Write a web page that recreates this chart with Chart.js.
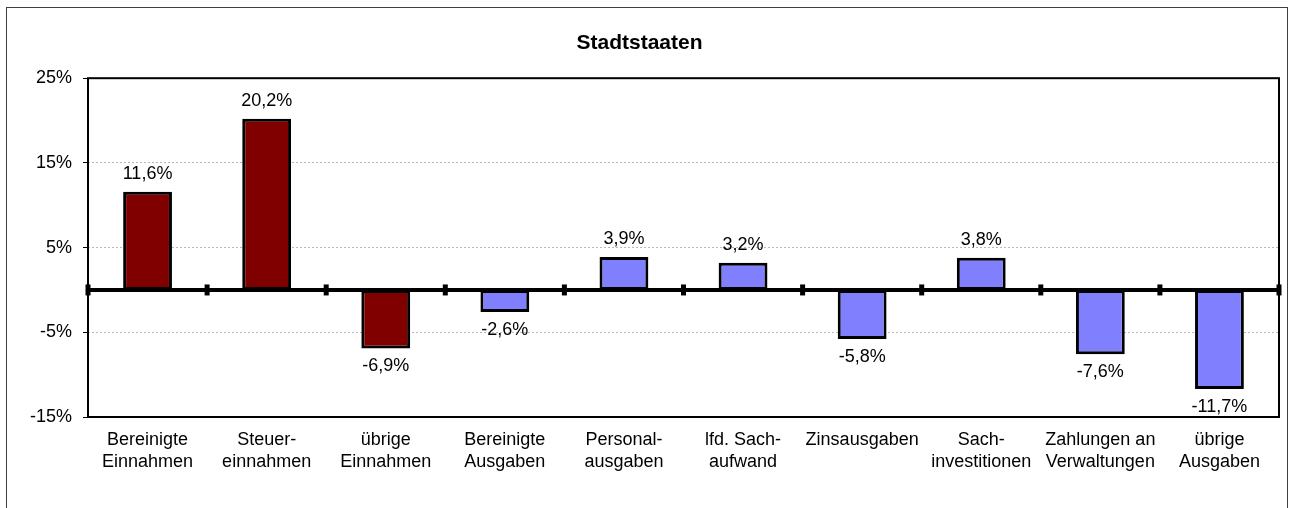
<!DOCTYPE html>
<html>
<head>
<meta charset="utf-8">
<script src="https://cdn.jsdelivr.net/npm/chart.js@4/dist/chart.umd.min.js"></script>
<style>
  html, body { margin: 0; padding: 0; background: #fff; }
  #wrap { width: 1292px; height: 508px; }
</style>
</head>
<body>
<div id="wrap"><canvas id="myChart" width="1292" height="508"></canvas></div>
<script>
const categories = [
  ['Bereinigte', 'Einnahmen'],
  ['Steuer-', 'einnahmen'],
  ['übrige', 'Einnahmen'],
  ['Bereinigte', 'Ausgaben'],
  ['Personal-', 'ausgaben'],
  ['lfd. Sach-', 'aufwand'],
  ['Zinsausgaben'],
  ['Sach-', 'investitionen'],
  ['Zahlungen an', 'Verwaltungen'],
  ['übrige', 'Ausgaben']
];
const changes = [11.6, 20.2, -6.9, -2.6, 3.9, 3.2, -5.8, 3.8, -7.6, -11.7];
const isIncome = [true, true, true, false, false, false, false, false, false, false];
const yTicks = { min: -15, max: 25, step: 10 };

const incomeColor = '#800000';
const spendColor = '#8080ff';
const fontFamily = '"Liberation Sans", Arial, sans-serif';

const fmt = v => v.toFixed(1).replace('.', ',') + '%';

const decorations = {
  id: 'decorations',
  beforeDraw(chart) {
    const ctx = chart.ctx;
    ctx.save();
    ctx.fillStyle = '#fff';
    ctx.fillRect(0, 0, chart.width, chart.height);
    ctx.strokeStyle = '#404040';
    ctx.lineWidth = 1;
    ctx.strokeRect(6.5, 7.5, 1281, 600);
    ctx.restore();
  },
  afterDatasetsDraw(chart) {
    const ctx = chart.ctx;
    const area = chart.chartArea;
    const y = chart.scales.y;
    const zero = y.getPixelForValue(0);
    ctx.save();
    // zero line
    ctx.strokeStyle = '#000';
    ctx.lineWidth = 4;
    ctx.beginPath();
    ctx.moveTo(area.left, zero);
    ctx.lineTo(area.right, zero);
    ctx.stroke();
    // category boundary ticks
    const step = (area.right - area.left) / categories.length;
    ctx.lineWidth = 5;
    for (let i = 0; i <= categories.length; i++) {
      const px = area.left + i * step;
      ctx.beginPath();
      ctx.moveTo(px, zero - 5.5);
      ctx.lineTo(px, zero + 5.5);
      ctx.stroke();
    }
    // plot border
    ctx.lineWidth = 2;
    ctx.strokeRect(area.left, area.top, area.right - area.left, area.bottom - area.top);
    // value labels
    ctx.fillStyle = '#000';
    ctx.font = '18px ' + fontFamily;
    ctx.textAlign = 'center';
    ctx.textBaseline = 'alphabetic';
    chart.getDatasetMeta(0).data.forEach((bar, i) => {
      const v = changes[i];
      const ly = v >= 0 ? bar.y - 13 : bar.y + 23;
      ctx.fillText(fmt(v), bar.x, ly);
    });
    ctx.restore();
  }
};

new Chart(document.getElementById('myChart').getContext('2d'), {
  type: 'bar',
  data: {
    labels: categories,
    datasets: [{
      data: changes,
      backgroundColor: isIncome.map(b => b ? incomeColor : spendColor),
      borderColor: '#000',
      borderWidth: 3,
      borderSkipped: false,
      categoryPercentage: 1,
      barPercentage: 0.41
    }]
  },
  options: {
    responsive: false,
    animation: false,
    layout: { padding: { left: 0, right: 13, top: 0, bottom: 0 } },
    plugins: {
      legend: { display: false },
      tooltip: { enabled: false },
      title: {
        display: true,
        text: 'Stadtstaaten',
        color: '#000',
        font: { family: fontFamily, size: 21, weight: 'bold' },
        padding: { top: 31, bottom: 22 }
      }
    },
    scales: {
      x: {
        grid: { display: false },
        border: { display: false },
        ticks: {
          color: '#000',
          font: { family: fontFamily, size: 18, lineHeight: 1.22 },
          padding: 4,
          maxRotation: 0,
          autoSkip: false
        },
        afterFit(scale) { scale.height = 91; }
      },
      y: {
        min: yTicks.min,
        max: yTicks.max,
        grid: {
          color: '#b8b8b8',
          tickColor: '#000',
          tickBorderDash: [],
          tickLength: 5,
          lineWidth: 1
        },
        border: { display: false, dash: [2, 2] },
        ticks: {
          stepSize: yTicks.step,
          color: '#000',
          font: { family: fontFamily, size: 18 },
          padding: 11,
          callback: v => v + '%'
        },
        afterFit(scale) { scale.width = 88; }
      }
    }
  },
  plugins: [decorations]
});
</script>
</body>
</html>
